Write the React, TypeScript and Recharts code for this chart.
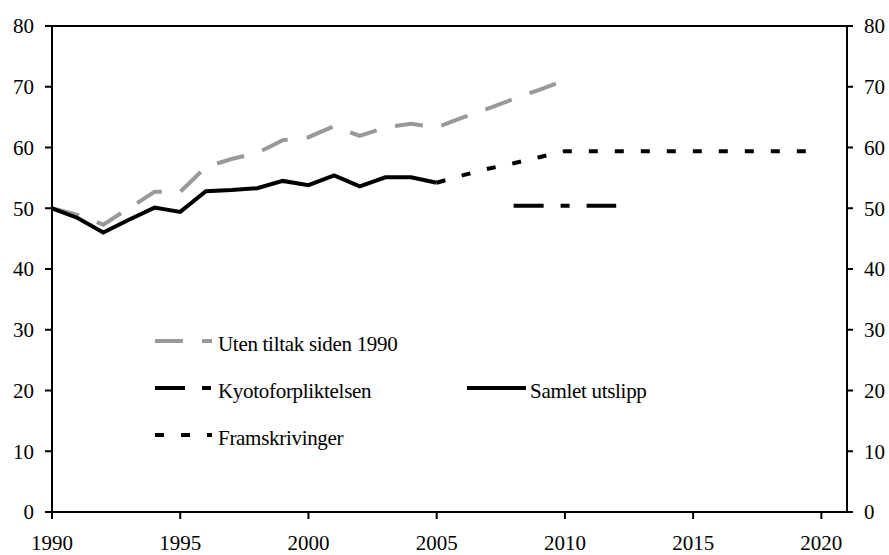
import { LineChart, Line, XAxis, YAxis, ReferenceLine } from "recharts";

// Samlet utslipp (historic)
const histYears = [1990, 1991, 1992, 1993, 1994, 1995, 1996, 1997, 1998, 1999, 2000, 2001, 2002, 2003, 2004, 2005];
const samletUtslipp = [50.0, 48.4, 46.0, 48.1, 50.1, 49.4, 52.8, 53.0, 53.3, 54.5, 53.8, 55.4, 53.6, 55.1, 55.1, 54.2];

// Uten tiltak siden 1990
const utenTiltakYears = [1990, 1991, 1992, 1993, 1994, 1995, 1996, 1997, 1998, 1999, 2000, 2001, 2002, 2003, 2004, 2005, 2006, 2007, 2008, 2009, 2010];
const utenTiltak = [50.0, 48.9, 47.3, 50.0, 52.7, 52.7, 56.8, 58.1, 59.1, 61.2, 61.7, 63.5, 61.9, 63.3, 63.9, 63.3, 64.9, 66.4, 68.0, 69.5, 71.1];

// Framskrivinger
const framYears = [2005, 2006, 2007, 2008, 2009, 2010, 2015, 2020];
const framskrivinger = [54.2, 55.4, 56.5, 57.4, 58.4, 59.4, 59.4, 59.4];

// Kyotoforpliktelsen
const kyotoYears = [2008, 2012];
const kyoto = [50.4, 50.4];

const xTicks = [1990, 1995, 2000, 2005, 2010, 2015, 2020];
const yTicks = [0, 10, 20, 30, 40, 50, 60, 70, 80];

const toRows = (years: number[], values: number[]) =>
  years.map((year, i) => ({ year, value: values[i] }));

const FONT = "'Liberation Serif', 'Times New Roman', serif";
const GREY = "#999999";
const tickStyle = { fill: "#000", fontSize: 21, fontFamily: FONT };

function LegendOverlay() {
  const items = [
    { label: "Uten tiltak siden 1990", color: GREY, dash: "28 19", x1: 155, x2: 212, tx: 218, y: 341 },
    { label: "Kyotoforpliktelsen", color: "#000", dash: "30 17 9 17", x1: 155, x2: 212, tx: 218, y: 388 },
    { label: "Samlet utslipp", color: "#000", dash: undefined, x1: 467, x2: 526, tx: 530, y: 388 },
    { label: "Framskrivinger", color: "#000", dash: "9 17", x1: 155, x2: 212, tx: 218, y: 435 },
  ];
  return (
    <svg
      width={889}
      height={555}
      style={{ position: "absolute", left: 0, top: 0, pointerEvents: "none" }}
    >
      {items.map((it) => (
        <g key={it.label}>
          <line
            x1={it.x1}
            x2={it.x2}
            y1={it.y}
            y2={it.y}
            stroke={it.color}
            strokeWidth={4}
            strokeDasharray={it.dash}
          />
          <text x={it.tx} y={it.y + 10} fontSize={21} fontFamily={FONT} fill="#000" letterSpacing={-0.3}>
            {it.label}
          </text>
        </g>
      ))}
    </svg>
  );
}

export default function App() {
  return (
    <div style={{ position: "absolute", left: 0, top: 0, width: 889, height: 555, background: "#fff" }}>
      <LineChart width={889} height={555} margin={{ top: 26, right: 0, bottom: 0, left: 0 }}>
        <XAxis
          type="number"
          dataKey="year"
          domain={[1990, 2021]}
          ticks={xTicks}
          allowDataOverflow
          height={43}
          tick={tickStyle}
          tickSize={7}
          tickMargin={16}
          axisLine={{ stroke: "#000", strokeWidth: 2 }}
          tickLine={{ stroke: "#000", strokeWidth: 2 }}
        />
        <YAxis
          yAxisId="left"
          domain={[0, 80]}
          ticks={yTicks}
          width={52}
          tick={tickStyle}
          tickSize={7}
          tickMargin={11}
          axisLine={{ stroke: "#000", strokeWidth: 2 }}
          tickLine={{ stroke: "#000", strokeWidth: 2 }}
        />
        <YAxis
          yAxisId="right"
          orientation="right"
          domain={[0, 80]}
          ticks={yTicks}
          width={42}
          tick={tickStyle}
          tickSize={6}
          tickMargin={11}
          axisLine={{ stroke: "#000", strokeWidth: 2 }}
          tickLine={{ stroke: "#000", strokeWidth: 2 }}
        />
        <ReferenceLine yAxisId="left" y={80} stroke="#000" strokeWidth={2} />
        <Line
          yAxisId="left"
          data={toRows(utenTiltakYears, utenTiltak)}
          dataKey="value"
          stroke={GREY}
          strokeWidth={4}
          strokeDasharray="28 19"
          dot={false}
          activeDot={false}
          isAnimationActive={false}
        />
        <Line
          yAxisId="right"
          data={toRows(kyotoYears, kyoto)}
          dataKey="value"
          stroke="#000"
          strokeWidth={4}
          strokeDasharray="30 17 9 17"
          dot={false}
          activeDot={false}
          isAnimationActive={false}
        />
        <Line
          yAxisId="left"
          data={toRows(framYears, framskrivinger)}
          dataKey="value"
          stroke="#000"
          strokeWidth={4}
          strokeDasharray="9 17"
          dot={false}
          activeDot={false}
          isAnimationActive={false}
        />
        <Line
          yAxisId="left"
          data={toRows(histYears, samletUtslipp)}
          dataKey="value"
          stroke="#000"
          strokeWidth={4}
          dot={false}
          activeDot={false}
          isAnimationActive={false}
        />
      </LineChart>
      <LegendOverlay />
    </div>
  );
}
